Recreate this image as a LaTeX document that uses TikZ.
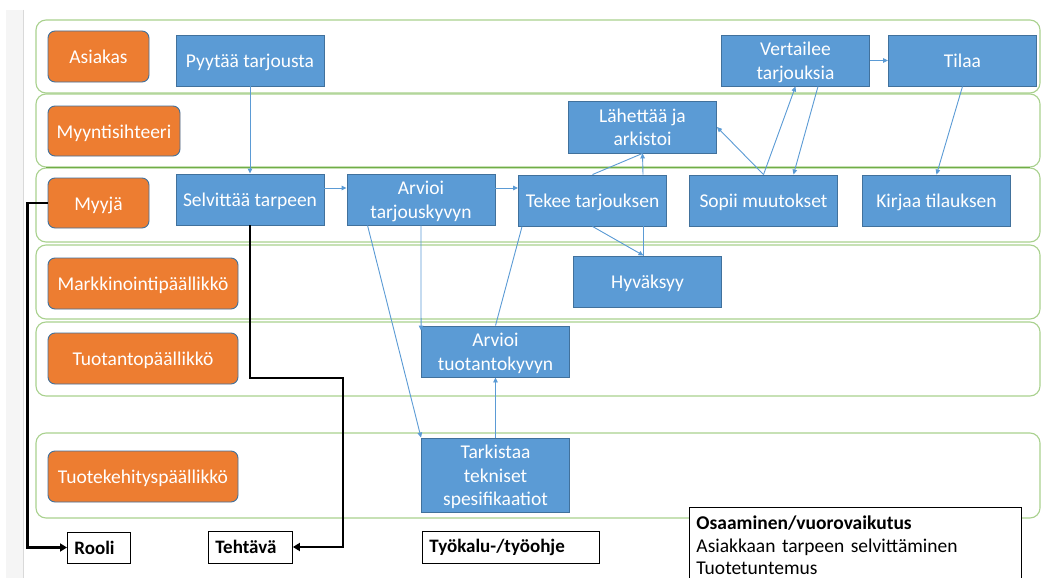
\documentclass[tikz,border=0pt]{standalone}
\usepackage{fontspec}
\setmainfont{Carlito}
\usetikzlibrary{arrows.meta}

\definecolor{taskblue}{HTML}{5B9BD5}
\definecolor{edgeblue}{HTML}{41719C}
\definecolor{roleorange}{HTML}{ED7D31}
\definecolor{lanegreen}{HTML}{A9D18E}
\definecolor{lanedark}{HTML}{70AD47}
\definecolor{flowblue}{HTML}{5B9BD5}

% box text: centred lines, drawn slightly below the geometric centre
\newcommand{\boxtext}[1]{\raisebox{-2.5pt}[\height][\depth]{\begin{tabular}{@{}c@{}}#1\end{tabular}}}

\tikzset{
  lane/.style={draw=lanegreen, line width=1.1pt, rounded corners=10pt},
  role/.style={draw=edgeblue, line width=0.9pt, fill=roleorange, rounded corners=7pt,
    text=white, font=\fontsize{19.5}{23}\selectfont, inner sep=0pt},
  task/.style={draw=edgeblue, line width=0.9pt, fill=taskblue, text=white,
    font=\fontsize{19.5}{23.5}\selectfont, inner sep=0pt,
    minimum width=148pt, minimum height=51pt},
  legendbox/.style={draw=black, line width=0.9pt, fill=white, inner xsep=7pt, inner ysep=0pt,
    minimum height=31pt, font=\bfseries\fontsize{19}{22}\selectfont, anchor=west, align=left},
  flow/.style={draw=flowblue, line width=0.9pt, -{Triangle[length=5pt,width=4.5pt]}},
  flowplain/.style={draw=flowblue, line width=0.9pt},
  guide/.style={draw=black, line width=2.6pt, -{Triangle[length=7pt,width=8pt]}}
}

\begin{document}
\begin{tikzpicture}[x=1pt,y=-1pt]
  \clip (0,0) rectangle (1041,578);
  \fill[white] (0,0) rectangle (1041,578);

  % page margin strip
  \fill[black!4] (6,10) rectangle (23,578);
  \draw[black!15, line width=0.8pt] (23.5,10) -- (23.5,578);

  % swimlanes
  \draw[lane] (36,20) rectangle (1040,93);
  \draw[lane] (36,94) rectangle (1040,167);
  \draw[lane] (36,168) rectangle (1040,242);
  \draw[lane] (36,245) rectangle (1040,319);
  \draw[lane] (36,322) rectangle (1040,396);
  \draw[lane] (36,433) rectangle (1040,518);
  \draw[lanedark, line width=1.6pt] (46,167.5) -- (1030,167.5);

  % roles
  \node[role, minimum width=101pt, minimum height=51pt] (asiakas) at (98.5,56.5) {\boxtext{Asiakas}};
  \node[role, minimum width=132pt, minimum height=50pt] (myyntis) at (114,131) {\boxtext{Myyntisihteeri}};
  \node[role, minimum width=101pt, minimum height=50pt] (myyja) at (98.5,203) {\boxtext{Myyjä}};
  \node[role, minimum width=190pt, minimum height=51pt] (markk) at (143,283.5) {\boxtext{Markkinointipäällikkö}};
  \node[role, minimum width=190pt, minimum height=51pt] (tuotan) at (143,358.5) {\boxtext{Tuotantopäällikkö}};
  \node[role, minimum width=190pt, minimum height=51pt] (tuotek) at (143,476.5) {\boxtext{Tuotekehityspäällikkö}};

  % tasks
  \node[task] (pyyta) at (250,60.5) {\boxtext{Pyytää tarjousta}};
  \node[task] (selv) at (250,199.5) {\boxtext{Selvittää tarpeen}};
  \node[task] (arvt) at (421,199.5) {\boxtext{Arvioi\\tarjouskyvyn}};
  \node[task] (tekee) at (592.5,200.5) {\boxtext{Tekee tarjouksen}};
  \node[task, minimum height=52pt] (lahet) at (642.5,127) {\boxtext{Lähettää ja\\arkistoi}};
  \node[task] (vert) at (795.5,60.5) {\boxtext{Vertailee\\tarjouksia}};
  \node[task] (tilaa) at (962.5,60.5) {\boxtext{Tilaa}};
  \node[task] (sopii) at (763.5,200.5) {\boxtext{Sopii muutokset}};
  \node[task] (kirjaa) at (936.5,200.5) {\boxtext{Kirjaa tilauksen}};
  \node[task] (hyv) at (647.5,281.5) {\boxtext{Hyväksyy}};
  \node[task] (arvtuo) at (495.5,351.5) {\boxtext{Arvioi\\tuotantokyvyn}};
  \node[task, minimum height=74pt] (tark) at (495.5,475) {\boxtext{Tarkistaa\\tekniset\\spesifikaatiot}};

  % task flow
  \draw[flow] (pyyta.south) -- (selv.north);
  \draw[flow] ([yshift=11.5pt]selv.east) -- ([yshift=11.5pt]arvt.west);
  \draw[flow] ([yshift=11.5pt]arvt.east) -- ([yshift=12.5pt]tekee.west);
  \draw[flow] (arvt.south) -- ([yshift=-5pt]arvtuo.north west);
  \draw[flow] ([xshift=21pt]arvt.south west) -- (tark.north west);
  \draw[flow] (tark.north) -- (arvtuo.south);
  \draw[flowplain] (arvtuo.north) -- ([xshift=4pt]tekee.south west);
  \draw[flow] (tekee.south) -- ([xshift=-4pt]hyv.north);
  \draw[flowplain] ([xshift=-4pt]hyv.north) -- ([xshift=51pt]tekee.south);
  \draw[flowplain] (tekee.north) -- (lahet.south);
  \draw[flow] ([xshift=50.5pt]tekee.north) -- (lahet.south);
  \draw[flow] (sopii.north) -- (lahet.east);
  \draw[flow] (sopii.north) -- (vert.south);
  \draw[flow] ([xshift=22.5pt]vert.south) -- ([xshift=30pt]sopii.north);
  \draw[flow] (vert.east) -- (tilaa.west);
  \draw[flow] (tilaa.south) -- (kirjaa.north);

  % legend boxes
  \node[legendbox, minimum width=63pt, text width=49pt] (rooli) at (67,547.5) {Rooli};
  \node[legendbox, minimum width=84pt, text width=70pt, minimum height=32pt] (tehtava) at (208,547) {Tehtävä};
  \node[legendbox, minimum width=177pt, text width=163pt, minimum height=32pt] (tyokalu) at (422,547) {Työkalu-/työohje};
  \node[draw=black, line width=0.9pt, fill=white, anchor=north west, inner xsep=7pt,
        inner ysep=8.5pt, text width=318pt, align=left,
        font=\fontsize{19.5}{22.5}\selectfont] (osaam) at (689,507)
        {\textbf{Osaaminen/vuorovaikutus}\\Asiakkaan tarpeen selvittäminen\\Tuotetuntemus\\[30pt]\mbox{}};

  % legend guides
  \coordinate (bend) at (343,378);
  \draw[guide] (myyja.west) -- ++(-20pt,0pt) |- (rooli.west);
  \draw[guide] (selv.south) |- (bend) |- (tehtava.east);
\end{tikzpicture}
\end{document}
